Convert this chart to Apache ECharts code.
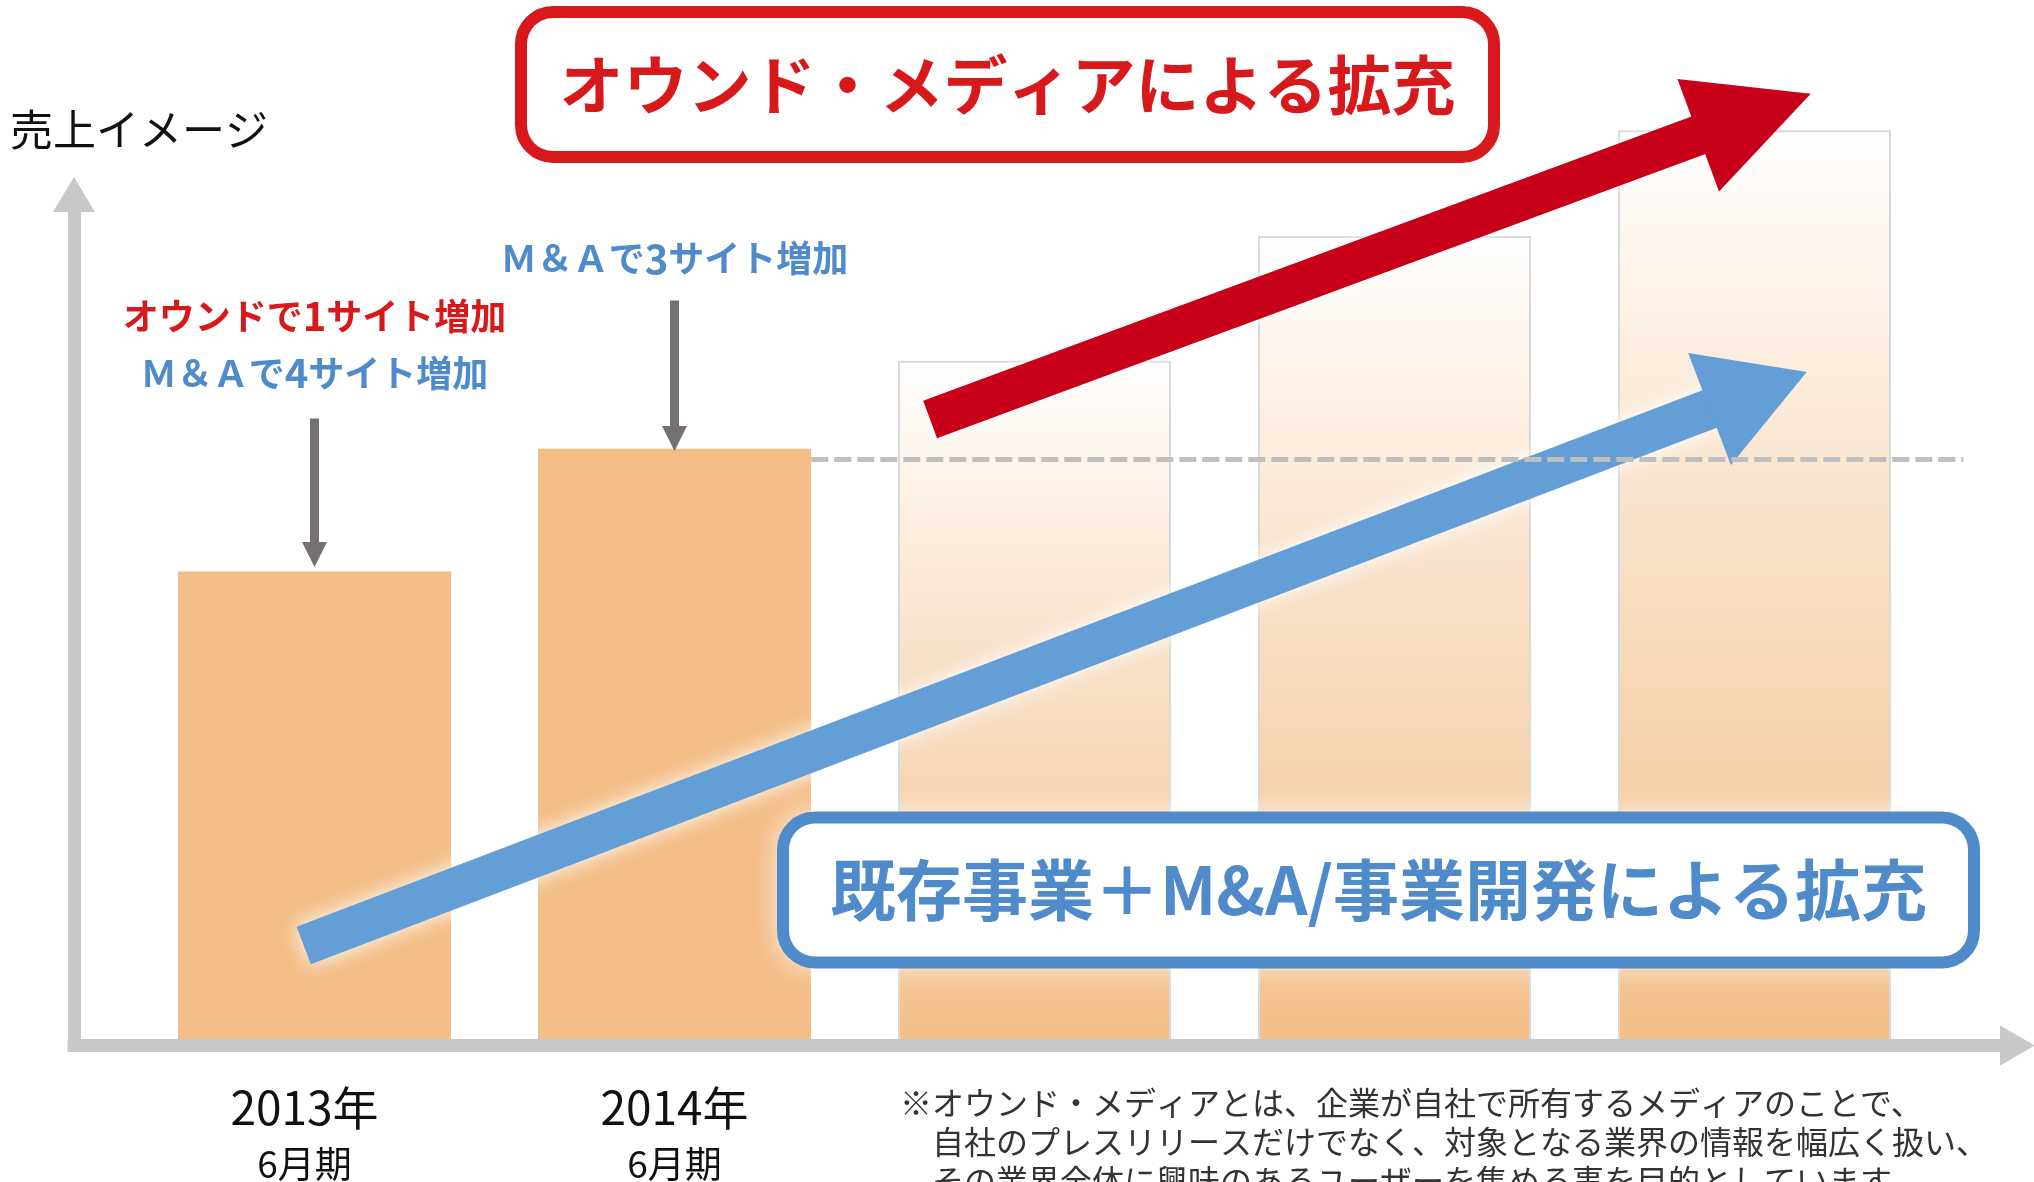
<!DOCTYPE html>
<html>
<head>
<meta charset="utf-8">
<title>売上イメージ</title>
<script src="https://cdn.jsdelivr.net/npm/echarts@6/dist/echarts.min.js"></script>
<style>
  html, body { margin: 0; padding: 0; background: #fff; }
  #chart { width: 2034px; height: 1182px; }
</style>
</head>
<body>
<div id="chart"></div>
<script>
// 売上イメージ（棒の高さ、相対値）
var categories = ['2013年', '2014年', '', '', ''];
var periods = ['6月期', '6月期', '', '', ''];
var salesValues = [47.3, 59.6, 68.4, 80.9, 91.5];
var isForecast = [false, false, true, true, true];

// 注記の矢印（x はカテゴリ位置、y は値）
var noteX = [0, 1];
var noteArrowFrom = [62.7, 74.5];
var noteArrowTo = [49.1, 60.7];
var noteTextY = [70.1, 78.7];
var noteTexts = [
  '{r|オウンドで}{rn|1}{r|サイト増加}\n{b|Ｍ＆Ａで}{bn|4}{b|サイト増加}',
  '{b|Ｍ＆Ａで}{bn|3}{b|サイト増加}'
];

// 2014年水準の点線
var dashX = [1.38, 4.58];
var dashLevel = 58.6;

// 大きな矢印 [始点, 終点]
var redArrow = [[1.71, 62.6], [4.0, 93.1]];
var blueArrow = [[-0.03, 10.0], [4.01, 65.5]];

var yAxisName = '売上イメージ';
var titleRed = 'オウンド・メディアによる拡充';
var titleBlue = '既存事業＋M&A/事業開発による拡充';
var footnote = [
  '※オウンド・メディアとは、企業が自社で所有するメディアのことで、',
  '　自社のプレスリリースだけでなく、対象となる業界の情報を幅広く扱い、',
  '　その業界全体に興味のあるユーザーを集める事を目的としています。'
];

var JP = '"Noto Sans CJK JP", sans-serif';
var RED = '#D7191C';
var BLUE = '#4F8BCB';
var chart = echarts.init(document.getElementById('chart'));

var forecastFill = new echarts.graphic.LinearGradient(0, 0, 0, 1, [
  { offset: 0, color: '#FFFFFF' },
  { offset: 0.2, color: '#FCF1E5' },
  { offset: 0.45, color: '#F9E0C6' },
  { offset: 0.75, color: '#F6CFA7' },
  { offset: 1, color: '#F3BE86' }
]);

var frameLine = function (size) {
  return {
    show: true,
    onZero: false,
    symbol: ['none', 'triangle'],
    symbolSize: size,
    lineStyle: { color: '#C8C8C8', width: 13, cap: 'square' }
  };
};

var noteRich = {
  r: { color: RED, fontSize: 36, fontWeight: 'bold', fontFamily: JP, lineHeight: 57 },
  rn: { color: RED, fontSize: 40, fontWeight: 'bold', fontFamily: JP, lineHeight: 57 },
  b: { color: BLUE, fontSize: 36, fontWeight: 'bold', fontFamily: JP, lineHeight: 57 },
  bn: { color: BLUE, fontSize: 40, fontWeight: 'bold', fontFamily: JP, lineHeight: 57 }
};

var hideAxis = { axisTick: { show: false }, axisLabel: { show: false }, splitLine: { show: false } };

chart.setOption({
  animation: false,
  grid: [
    // 軸の枠
    { left: 74, right: 16.5, top: 194.5, bottom: 136.5 },
    // 棒
    { left: 134.5, right: 99.5, top: 45.5, bottom: 136.5 },
    // 注記・矢印（棒と同じ目盛りで右に広げたもの）
    { left: 134.5, right: 9.5, top: 45.5, bottom: 136.5 }
  ],
  xAxis: [
    echarts.util.extend({
      gridIndex: 0, type: 'value', min: 0, max: 1, z: 10,
      axisLine: frameLine([40, 35])
    }, hideAxis),
    {
      gridIndex: 1, type: 'category', data: categories,
      axisLine: { show: false }, axisTick: { show: false },
      axisLabel: {
        margin: 36,
        interval: 0,
        formatter: function (value, index) {
          if (!value) return '';
          var s = index === 0 ? '0' : '';
          return '{y' + s + '|' + value + '}\n{p' + s + '|' + periods[index] + '}';
        },
        rich: {
          y: { fontSize: 46, lineHeight: 56, color: '#111', fontFamily: JP },
          p: { fontSize: 37, lineHeight: 56, color: '#111', fontFamily: JP },
          y0: { fontSize: 46, lineHeight: 56, color: '#111', fontFamily: JP, padding: [0, 20, 0, 0] },
          p0: { fontSize: 37, lineHeight: 56, color: '#111', fontFamily: JP, padding: [0, 20, 0, 0] }
        }
      }
    },
    { gridIndex: 2, type: 'value', min: -0.5, max: 4.75, show: false }
  ],
  yAxis: [
    echarts.util.extend({
      gridIndex: 0, type: 'value', min: 0, max: 1, z: 10,
      axisLine: frameLine([42, 35])
    }, hideAxis),
    { gridIndex: 1, type: 'value', min: 0, max: 100, show: false },
    { gridIndex: 2, type: 'value', min: 0, max: 100, show: false }
  ],
  series: [
    {
      type: 'bar', xAxisIndex: 1, yAxisIndex: 1, barWidth: 273, z: 2, silent: true,
      data: salesValues.map(function (v, i) {
        return {
          value: v,
          itemStyle: isForecast[i]
            ? { color: forecastFill, borderColor: '#D9D9D9', borderWidth: 2 }
            : { color: '#F3BE86' }
        };
      })
    },
    {
      // オウンド・メディアの矢印
      type: 'line', xAxisIndex: 2, yAxisIndex: 2, data: [], silent: true,
      markLine: {
        silent: true, z: 3,
        symbol: ['none', 'triangle'], symbolSize: [120, 120],
        label: { show: false },
        emphasis: { disabled: true },
        lineStyle: { color: '#C8001A', width: 40, type: 'solid', shadowBlur: 12, shadowColor: 'rgba(255,255,255,0.9)' },
        data: [[{ coord: redArrow[0] }, { coord: redArrow[1] }]]
      }
    },
    {
      // 既存事業の矢印
      type: 'line', xAxisIndex: 2, yAxisIndex: 2, data: [], silent: true,
      markLine: {
        silent: true, z: 4,
        symbol: ['none', 'triangle'], symbolSize: [120, 104],
        label: { show: false },
        emphasis: { disabled: true },
        lineStyle: { color: '#639FD6', width: 40, type: 'solid', shadowBlur: 20, shadowColor: 'rgba(255,255,255,1)' },
        data: [[{ coord: blueArrow[0] }, { coord: blueArrow[1] }]]
      }
    },
    {
      type: 'line', xAxisIndex: 2, yAxisIndex: 2, z: 6, silent: true,
      symbol: 'none',
      lineStyle: { color: '#BFBFBF', width: 5, type: [17, 6] },
      data: [[dashX[0], dashLevel], [dashX[1], dashLevel]]
    },
    {
      // 注記
      type: 'line', xAxisIndex: 2, yAxisIndex: 2, data: [], silent: true,
      markLine: {
        silent: true, z: 6,
        symbol: ['none', 'triangle'], symbolSize: [25, 25],
        label: { show: false },
        emphasis: { disabled: true },
        lineStyle: { color: '#767171', width: 9, type: 'solid' },
        data: noteX.map(function (x, i) {
          return [{ coord: [x, noteArrowFrom[i]] }, { coord: [x, noteArrowTo[i]] }];
        })
      },
      markPoint: {
        silent: true, z: 6,
        symbol: 'rect', symbolSize: 1,
        itemStyle: { color: 'rgba(0,0,0,0)' },
        label: { show: true, position: 'inside', color: BLUE, textBorderWidth: 0, rich: noteRich },
        data: noteX.map(function (x, i) {
          return { coord: [x, noteTextY[i]], label: { formatter: noteTexts[i] } };
        })
      }
    }
  ],
  graphic: [
    {
      type: 'text', x: 10, y: 130, z: 100, silent: true,
      style: { text: yAxisName, font: '43px ' + JP, fill: '#111', verticalAlign: 'middle' }
    },
    {
      type: 'text', x: 1007.5, y: 84.5, z: 100, silent: true,
      style: {
        text: titleRed, font: 'bold 64px ' + JP, fill: RED,
        align: 'center', verticalAlign: 'middle',
        width: 961, height: 133, lineHeight: 133,
        backgroundColor: '#fff', borderColor: RED, borderWidth: 12, borderRadius: 26
      }
    },
    {
      // 白いぼかし（枠の外側）
      type: 'text', x: 1378.5, y: 890, z: 99, silent: true,
      style: {
        text: ' ', font: 'bold 64px ' + JP, fill: 'rgba(0,0,0,0)',
        align: 'center', verticalAlign: 'middle',
        width: 1195, height: 148, lineHeight: 148,
        backgroundColor: '#fff', borderRadius: 30,
        shadowBlur: 28, shadowColor: '#fff'
      }
    },
    {
      type: 'text', x: 1378.5, y: 890, z: 100, silent: true,
      style: {
        text: titleBlue, font: 'bold 66px ' + JP, fill: BLUE,
        align: 'center', verticalAlign: 'middle',
        width: 1179, height: 133, lineHeight: 133,
        backgroundColor: '#fff', borderColor: BLUE, borderWidth: 12, borderRadius: 26
      }
    },
    {
      type: 'text', x: 900, y: 1083.5, z: 100, silent: true,
      style: {
        text: footnote.join('\n'), font: '32px ' + JP, fill: '#333',
        lineHeight: 39, verticalAlign: 'top'
      }
    }
  ]
});
</script>
</body>
</html>
